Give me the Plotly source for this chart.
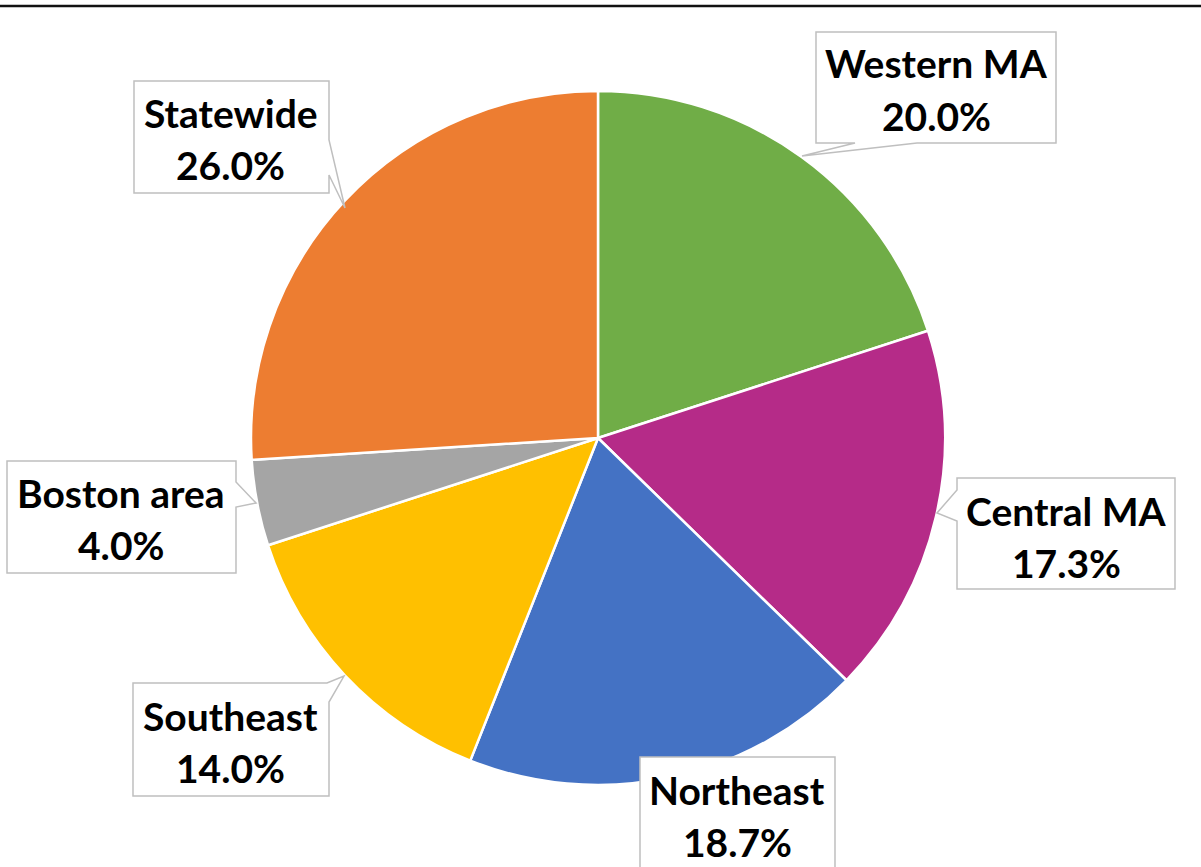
import plotly.graph_objects as go

# ---- data ----
regions = ["Western MA", "Central MA", "Northeast", "Southeast", "Boston area", "Statewide"]
shares = [20.0, 17.3, 18.7, 14.0, 4.0, 26.0]
colors = ["#70AD47", "#B52B88", "#4472C4", "#FFC000", "#A5A5A5", "#ED7D31"]

W, H = 1201, 867


def px(x):
    return x / W


def py(y):
    return 1 - y / H


fig = go.Figure()
fig.add_trace(go.Pie(
    labels=regions, values=shares, sort=False, direction="clockwise", rotation=0,
    marker=dict(colors=colors, line=dict(color="white", width=2.5)),
    textinfo="none", hoverinfo="label+percent", showlegend=False,
    domain=dict(x=[251 / W, 945 / W], y=[1 - 785 / H, 1 - 91 / H]),
))

# callout boxes (pixel layout -> paper)
callouts = {
    "Western MA": [(816, 32), (1056, 32), (1056, 143), (917, 143), (802, 156), (855, 143), (816, 143)],
    "Statewide": [(134, 81), (329, 81), (329, 140), (345, 208), (329, 175), (329, 193), (134, 193)],
    "Boston area": [(7, 461), (236, 461), (236, 482), (256, 503), (236, 507), (236, 573), (7, 573)],
    "Central MA": [(957, 478), (1175, 478), (1175, 589), (957, 589), (957, 521), (937, 513), (957, 490)],
    "Northeast": [(640, 757), (835, 757), (835, 872), (640, 872)],
    "Southeast": [(133, 683), (327, 683), (344, 676), (329, 702), (329, 796), (133, 796)],
}
# text centers: (x, line1 y, line2 y)
text_pos = {
    "Western MA": (936, 63, 116),
    "Statewide": (231, 113, 165),
    "Boston area": (121, 493, 545),
    "Central MA": (1066, 511, 563),
    "Northeast": (737, 790, 842),
    "Southeast": (231, 716, 768),
}

shapes = []
for name, pts in callouts.items():
    path = "M" + " L".join(f"{px(x):.5f},{py(y):.5f}" for x, y in pts) + " Z"
    shapes.append(dict(type="path", xref="paper", yref="paper", path=path,
                       fillcolor="white", line=dict(color="#BFBFBF", width=1.5), layer="above"))

# top rule
shapes.append(dict(type="line", xref="paper", yref="paper", x0=0, x1=1, y0=py(6), y1=py(6),
                   line=dict(color="#111111", width=2.5), layer="above"))

annotations = []
font = dict(family="Lato", size=39, color="black", weight="bold")
for name, val in zip(regions, shares):
    cx, y1, y2 = text_pos[name]
    annotations.append(dict(x=px(cx), y=py(y1), xref="paper", yref="paper", text=name,
                            showarrow=False, xanchor="center", yanchor="middle", font=font))
    annotations.append(dict(x=px(cx), y=py(y2), xref="paper", yref="paper", text=f"{val:.1f}%",
                            showarrow=False, xanchor="center", yanchor="middle", font=font))

fig.update_layout(
    width=W, height=H, margin=dict(l=0, r=0, t=0, b=0),
    paper_bgcolor="white", plot_bgcolor="white",
    shapes=shapes, annotations=annotations,
)

fig.write_html("out.html", config={"displayModeBar": False},
               post_script="document.body.style.margin='0';document.body.style.overflow='hidden';")
